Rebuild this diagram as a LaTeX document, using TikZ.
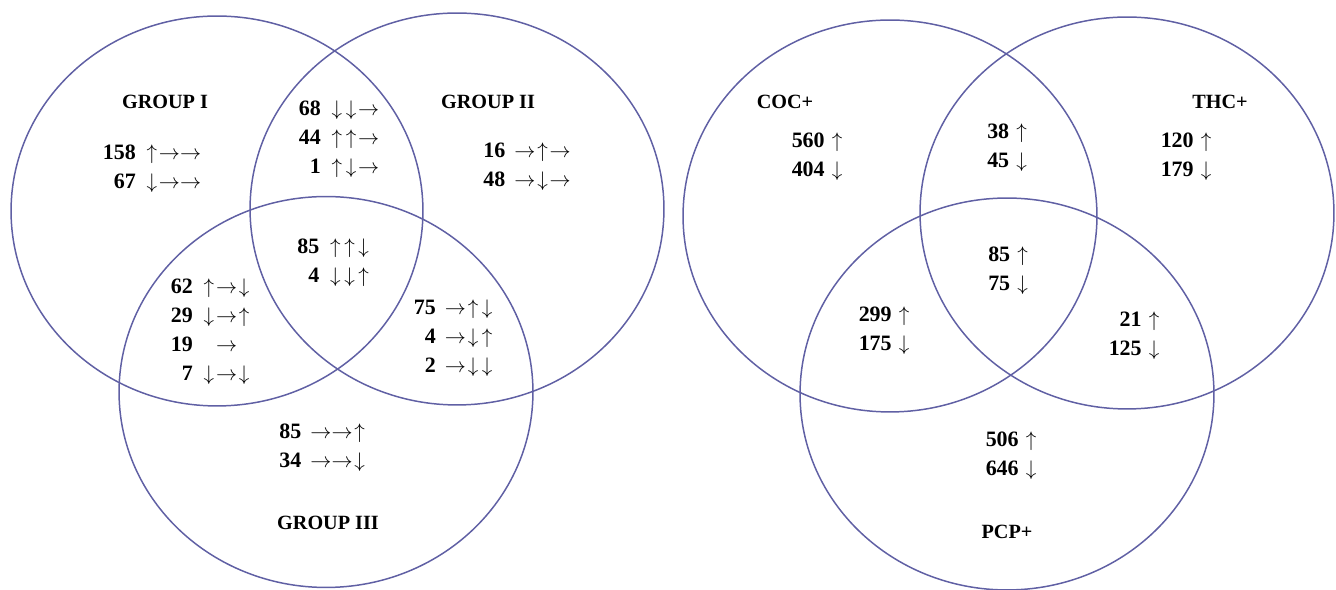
\documentclass[tikz,border=0pt]{standalone}
\usepackage{fontspec}
\setmainfont{Liberation Serif}
\definecolor{ringblue}{RGB}{96,96,164}
\newcommand{\tup}{\ensuremath{\mkern1.5mu\uparrow\mkern1.5mu}}
\newcommand{\tdn}{\ensuremath{\mkern1.5mu\downarrow\mkern1.5mu}}
\newcommand{\trt}{\ensuremath{\rightarrow}}

\begin{document}
\begin{tikzpicture}[x=0.02cm,y=-0.02cm,
ring/.style={draw=ringblue,line width=0.85pt},
setname/.style={font=\fontsize{11.5}{14}\selectfont\bfseries,inner sep=0pt},
tally/.style={font=\fontsize{12.5}{16.5}\selectfont,inner sep=0pt}
]
\useasboundingbox (0,0) rectangle (1336,590);

% left diagram: the three groups
\draw[ring] (217,211) ellipse [x radius=4.12cm, y radius=3.9cm];
\draw[ring] (457,209) ellipse [x radius=4.14cm, y radius=3.92cm];
\draw[ring] (326,392) ellipse [x radius=4.14cm, y radius=3.91cm];

\node[setname] (g1) at (165,102) {GROUP I};
\node[setname] (g2) at (488,102) {GROUP II};
\node[setname] (g3) at (328,523) {GROUP III};

\node[tally] (g1only) at (152,168) {\begin{tabular}{@{}r@{\ \,}l@{}}
\textbf{158} & \tup\trt\trt\\ \textbf{67} & \tdn\trt\trt\end{tabular}};
\node[tally] (g12) at (339,139) {\begin{tabular}{@{}r@{\ \,}l@{}}
\textbf{68} & \tdn\tdn\trt\\ \textbf{44} & \tup\tup\trt\\ \textbf{1} & \tup\tdn\trt\end{tabular}};
\node[tally] (g2only) at (527,166) {\begin{tabular}{@{}r@{\ \,}l@{}}
\textbf{16} & \trt\tup\trt\\ \textbf{48} & \trt\tdn\trt\end{tabular}};
\node[tally] (g123) at (334,262) {\begin{tabular}{@{}r@{\ \,}l@{}}
\textbf{85} & \tup\tup\tdn\\ \textbf{4} & \tdn\tdn\tup\end{tabular}};
\node[tally] (g13) at (211,331) {\begin{tabular}{@{}r@{\ \,}l@{}}
\textbf{62} & \tup\trt\tdn\\ \textbf{29} & \tdn\trt\tup\\ \textbf{19} & \phantom{\tup}\trt\\ \textbf{7} & \tdn\trt\tdn\end{tabular}};
\node[tally] (g23) at (454,338) {\begin{tabular}{@{}r@{\ \,}l@{}}
\textbf{75} & \trt\tup\tdn\\ \textbf{4} & \trt\tdn\tup\\ \textbf{2} & \trt\tdn\tdn\end{tabular}};
\node[tally] (g3only) at (323,447) {\begin{tabular}{@{}r@{\ \,}l@{}}
\textbf{85} & \trt\trt\tup\\ \textbf{34} & \trt\trt\tdn\end{tabular}};

% right diagram: the three drugs
\draw[ring] (890,216) ellipse [x radius=4.14cm, y radius=3.92cm];
\draw[ring] (1127,213) ellipse [x radius=4.14cm, y radius=3.92cm];
\draw[ring] (1007,394) ellipse [x radius=4.14cm, y radius=3.92cm];

\node[setname] (coc) at (785,102) {COC+};
\node[setname] (thc) at (1220,102) {THC+};
\node[setname] (pcp) at (1007,532) {PCP+};

\node[tally] (coconly) at (818,156) {\begin{tabular}{@{}r@{\ }l@{}}
\textbf{560} & \tup\\ \textbf{404} & \tdn\end{tabular}};
\node[tally] (cocthc) at (1008,147) {\begin{tabular}{@{}r@{\ }l@{}}
\textbf{38} & \tup\\ \textbf{45} & \tdn\end{tabular}};
\node[tally] (thconly) at (1187,156) {\begin{tabular}{@{}r@{\ }l@{}}
\textbf{120} & \tup\\ \textbf{179} & \tdn\end{tabular}};
\node[tally] (all3) at (1009,270) {\begin{tabular}{@{}r@{\ }l@{}}
\textbf{85} & \tup\\ \textbf{75} & \tdn\end{tabular}};
\node[tally] (cocpcp) at (885,330) {\begin{tabular}{@{}r@{\ }l@{}}
\textbf{299} & \tup\\ \textbf{175} & \tdn\end{tabular}};
\node[tally] (thcpcp) at (1135,335) {\begin{tabular}{@{}r@{\ }l@{}}
\textbf{21} & \tup\\ \textbf{125} & \tdn\end{tabular}};
\node[tally] (pcponly) at (1012,455) {\begin{tabular}{@{}r@{\ }l@{}}
\textbf{506} & \tup\\ \textbf{646} & \tdn\end{tabular}};
\end{tikzpicture}
\end{document}
